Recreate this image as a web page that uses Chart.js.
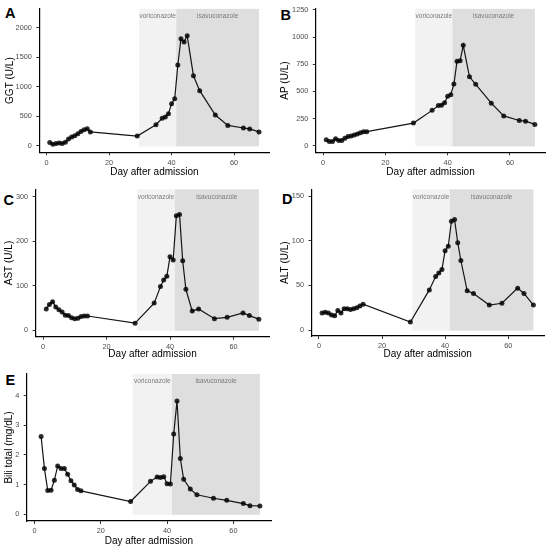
<!DOCTYPE html>
<html><head><meta charset="utf-8">
<script src="https://cdn.jsdelivr.net/npm/chart.js@4.4.1/dist/chart.umd.min.js"></script>
<style>
html,body{margin:0;padding:0;background:#fff}
body{width:550px;height:548px;position:relative;overflow:hidden;font-family:"Liberation Sans",Arial,sans-serif}
.p{position:absolute}
.lab{position:absolute;font-weight:bold;font-size:14.5px;line-height:14px;color:#000;font-family:"Liberation Sans",Arial,sans-serif}
</style></head><body>
<div class="lab" style="left:5px;top:5.5px">A</div>
<div class="lab" style="left:280.5px;top:8px">B</div>
<div class="lab" style="left:3.5px;top:192.5px">C</div>
<div class="lab" style="left:282px;top:191.5px">D</div>
<div class="lab" style="left:5.5px;top:373px">E</div>
<script>
// ---- data ----
const daysMain = [1,2,3,4,5,6,7,8,9,10,11,12,13,14,29,35,37,38,39,40,41,42,43,44,45,47,49,54,58,63,65,68];
const daysBili = [2,3,4,5,6,7,8,9,10,11,12,13,14,29,35,37,38,39,40,41,42,43,44,45,47,49,54,58,63,65,68];
const ggtValues = [55,27,38,49,38,60,115,148,172,203,245,272,291,236,165,357,467,489,544,714,797,1368,1813,1758,1863,1187,934,522,346,302,286,236];
const apValues  = [55,40,40,65,50,50,70,85,90,100,110,120,130,130,209,326,371,374,395,455,470,568,777,783,924,634,565,392,275,233,227,197];
const astValues = [48,58,64,52,46,41,34,33,28,26,27,31,32,32,16,61,98,113,121,165,158,257,260,156,92,43,48,26,29,39,33,25];
const altValues = [19,20,19,17,16,22,19,24,24,23,24,25,27,29,9,45,60,64,68,89,94,122,124,98,78,44,41,28,30,47,41,28];
const biliValues = [2.62,1.54,0.80,0.81,1.15,1.63,1.54,1.54,1.35,1.13,0.99,0.84,0.79,0.43,1.11,1.26,1.24,1.27,1.03,1.02,2.71,3.82,1.88,1.18,0.85,0.66,0.54,0.47,0.36,0.29,0.28];

const phaseNames = ['voriconazole','isavuconazole'];
const phaseStart = [29.6, 41.5];
const phaseEnd   = [41.5, 68];

const xTicks = [0,20,40,60];
const ggtTicks = [0,500,1000,1500,2000];
const apTicks = [0,250,500,750,1000,1250];
const astTicks = [0,100,200,300];
const altTicks = [0,50,100,150];
const biliTicks = [0,1,2,3,4];

const xTitle = 'Day after admission';
const F = '"Liberation Sans", Arial, sans-serif';
const phaseFill = ['#f2f2f2','#dedede'];

const phasePlugin = {
  id:'phases',
  beforeDatasetsDraw(chart){
    const {ctx, chartArea, scales} = chart;
    const x = scales.x, y = scales.y;
    ctx.save();
    phaseNames.forEach((name,i)=>{
      const x0 = x.getPixelForValue(phaseStart[i]);
      const x1 = x.getPixelForValue(phaseEnd[i]);
      const yb = y.getPixelForValue(0) + 0.5;
      ctx.fillStyle = phaseFill[i];
      ctx.fillRect(x0, chartArea.top, x1 - x0, yb - chartArea.top);
    });
    phaseNames.forEach((name,i)=>{
      const x0 = x.getPixelForValue(phaseStart[i]);
      const x1 = x.getPixelForValue(phaseEnd[i]);
      ctx.fillStyle = '#7a7a7a';
      ctx.font = '6.5px ' + F;
      ctx.textAlign = 'center';
      ctx.textBaseline = 'middle';
      ctx.fillText(name, (x0 + x1) / 2, chartArea.top + 7.5);
    });
    ctx.restore();
  }
};

function makePanel(p){
  const div = document.createElement('div');
  div.className = 'p';
  Object.assign(div.style, {left:p.l+'px', top:p.t+'px', width:p.w+'px', height:p.h+'px'});
  const cv = document.createElement('canvas');
  div.appendChild(cv);
  document.body.appendChild(div);
  const pts = p.days.map((d,i)=>({x:d, y:p.values[i]}));
  const axisCommon = {
    grid:{display:true, drawOnChartArea:false, drawTicks:true, tickLength:3, color:'#333', tickColor:'#333', lineWidth:1},
    border:{display:true, color:'#000', width:1.2},
  };
  new Chart(cv, {
    type:'scatter',
    data:{datasets:[{data:pts, showLine:true, borderColor:'#151515', borderWidth:1.2,
      pointRadius:2.5, pointHoverRadius:2.5, pointBackgroundColor:'rgba(0,0,0,0.82)', pointBorderWidth:0}]},
    options:{
      responsive:true, maintainAspectRatio:false, animation:false,
      layout:{autoPadding:false, padding:{left:0, top:p.padTop, right:p.padRight, bottom:0}},
      plugins:{legend:{display:false}, tooltip:{enabled:false}},
      scales:{
        x:Object.assign({}, axisCommon, {
          type:'linear', min:-2.35, max:71.35,
          afterFit:s=>{s.height = p.xH;},
          afterBuildTicks:s=>{s.ticks = xTicks.map(v=>({value:v}));},
          ticks:{font:{family:F,size:7.3}, color:'#4d4d4d', padding:3, maxRotation:0, autoSkip:false, callback:v=>String(v)},
          title:{display:true, text:xTitle, font:{family:F,size:10}, color:'#000', padding:{top:0,bottom:p.xTitlePad}}
        }),
        y:Object.assign({}, axisCommon, {
          type:'linear', min:p.yMin, max:p.yMax,
          afterFit:s=>{s.width = p.yW;},
          afterBuildTicks:s=>{s.ticks = p.yTicks.map(v=>({value:v}));},
          ticks:{font:{family:F,size:7.3}, color:'#4d4d4d', padding:4.5, autoSkip:false, callback:v=>String(v)},
          title:{display:true, text:p.yTitle, font:{family:F,size:10}, color:'#000', padding:{top:p.yTitlePad,bottom:0}}
        })
      }
    },
    plugins:[phasePlugin]
  });
}

makePanel({l:0,t:0,w:275,h:180, yW:39.3, padTop:5, padRight:5.5, xH:27.7, yMin:-109, yMax:2318,
  days:daysMain, values:ggtValues, yTicks:ggtTicks, yTitle:'GGT (U/L)', yTitlePad:4, xTitlePad:2});
makePanel({l:275,t:0,w:275,h:180, yW:40.8, padTop:5, padRight:4.7, xH:27.7, yMin:-59.3, yMax:1258.7,
  days:daysMain, values:apValues, yTicks:apTicks, yTitle:'AP (U/L)', yTitlePad:4, xTitlePad:2});
makePanel({l:0,t:180,w:275,h:180, yW:35.6, padTop:9.3, padRight:5.5, xH:23.3, yMin:-14.4, yMax:316.4,
  days:daysMain, values:astValues, yTicks:astTicks, yTitle:'AST (U/L)', yTitlePad:3, xTitlePad:0});
makePanel({l:275,t:180,w:275,h:180, yW:36.5, padTop:9.3, padRight:6, xH:24, yMin:-6.7, yMax:157.9,
  days:daysMain, values:altValues, yTicks:altTicks, yTitle:'ALT (U/L)', yTitlePad:4, xTitlePad:0});
makePanel({l:0,t:360,w:275,h:188, yW:26.7, padTop:14, padRight:4, xH:27, yMin:-0.226, yMax:4.73,
  days:daysBili, values:biliValues, yTicks:biliTicks, yTitle:'Bili total (mg/dL)', yTitlePad:3, xTitlePad:1});
</script>
</body></html>
